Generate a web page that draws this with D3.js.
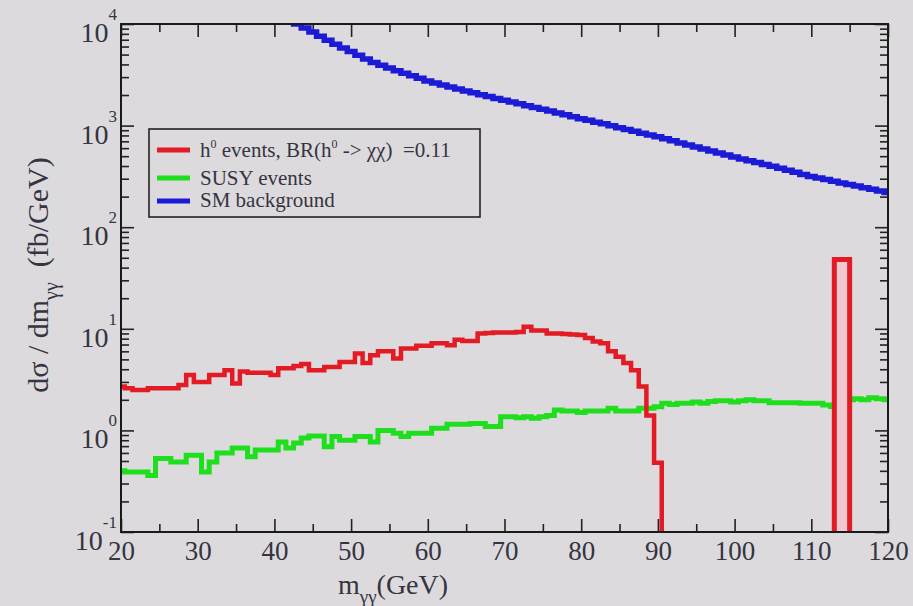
<!DOCTYPE html>
<html><head><meta charset="utf-8">
<script src="https://cdn.jsdelivr.net/npm/d3@7"></script>
<style>
html,body{margin:0;padding:0;background:#dedade;}
svg{display:block;font-family:"Liberation Serif","Times New Roman",serif;}
</style></head><body>
<svg id="chart" width="913" height="606"></svg>
<script>
// ---------- data ----------
const massBins = d3.range(20, 121); // histogram bin centres (GeV), 1 GeV wide
const redValues = [
 2.7,2.6,2.5,2.5,2.6,2.6,2.6,2.6,2.8,3.5,
 3.0,3.0,3.5,3.5,3.9,2.9,3.8,3.7,3.7,3.7,
 3.5,4.1,4.1,4.3,4.5,3.9,3.9,4.2,4.2,4.7,
 4.7,5.7,4.6,5.5,6.0,6.0,5.1,6.4,6.4,6.8,
 6.8,7.2,7.2,6.9,7.8,7.6,7.6,9.0,9.1,9.2,
 9.2,9.2,9.3,10.5,9.6,9.6,9.0,9.0,8.9,8.8,
 8.7,8.1,7.5,7.2,6.0,5.3,4.6,3.9,2.7,1.4,
 0.48,0,0,0,0,0,0,0,0,0,
 0,0,0,0,0,0,0,0,0,0,
 0,0,0,0,0,0,0,0,0,0,
 0
];
const greenValues = [
 0.40,0.39,0.39,0.39,0.36,0.53,0.53,0.49,0.49,0.57,
 0.57,0.39,0.49,0.60,0.60,0.67,0.67,0.55,0.64,0.64,
 0.64,0.77,0.67,0.75,0.84,0.88,0.88,0.69,0.87,0.80,
 0.80,0.87,0.87,0.77,1.00,1.00,0.94,0.87,0.94,0.94,
 0.94,1.05,1.05,1.15,1.15,1.15,1.17,1.17,1.09,1.09,
 1.36,1.36,1.33,1.36,1.32,1.36,1.40,1.59,1.55,1.55,
 1.50,1.55,1.55,1.55,1.65,1.55,1.55,1.55,1.65,1.65,
 1.71,1.85,1.80,1.85,1.85,1.90,1.85,1.92,1.96,1.96,
 1.90,1.96,2.00,1.96,1.96,1.87,1.87,1.87,1.87,1.85,
 1.85,1.85,1.78,1.72,1.95,2.00,2.05,2.00,2.10,2.05,
 2.00
];
const blueValues = [
 null,null,null,null,null,null,null,null,null,null,
 null,null,null,null,null,null,null,null,null,null,
 null,12000,10900,10000,9120,8320,7590,6920,6310,5810,
 5350,4920,4530,4170,3920,3690,3470,3270,3090,2920,
 2750,2630,2510,2400,2290,2190,2100,2010,1930,1850,
 1780,1710,1640,1570,1510,1450,1390,1330,1280,1220,
 1170,1130,1080,1040,995,955,916,879,843,809,
 776,741,708,676,646,617,589,562,537,513,
 490,470,451,433,415,398,380,363,347,331,
 316,305,294,283,273,263,254,244,236,227,
 219
];
// narrow h0 -> gamma gamma peak
const peakEdges = [113, 115];
const peakValue = 48;

const xTickValues = [20,30,40,50,60,70,80,90,100,110,120];
const xMinorValues = [25,35,45,55,65,75,85,95,105,115];
const yExponents = [-1,0,1,2,3,4];
const legendLabels = ["SUSY events","SM background"];

// ---------- layout ----------
const W = 913, H = 606;
const P = {left:121, top:24, right:888, bottom:532};
const x = d3.scaleLinear().domain([20,120]).range([P.left,P.right]);
const y = d3.scaleLog().domain([0.1,1e4]).range([P.bottom,P.top]);
const yMajor = yExponents.map(e => Math.pow(10,e));
const yMinor = [];
yExponents.slice(0,-1).forEach(e => { for (let k=2;k<=9;k++) yMinor.push(k*Math.pow(10,e)); });

const svg = d3.select('#chart');
svg.append('rect').attr('width',W).attr('height',H).attr('fill','#dddade');

svg.append('defs').append('clipPath').attr('id','plotclip')
  .append('rect').attr('x',P.left).attr('y',P.top)
  .attr('width',P.right-P.left).attr('height',P.bottom-P.top);

const COL = {red:'#e31b25', green:'#1ede1e', blue:'#1b1bd6', ink:'#222', text:'#35343f'};

// ---------- axes (ticks inward) ----------
function styleAxis(g){
  g.select('.domain').remove();
  g.selectAll('.tick line').attr('stroke',COL.ink).attr('stroke-width',1.6);
  g.selectAll('text').attr('font-family','"Liberation Serif","Times New Roman",serif');
}
svg.append('g').attr('transform',`translate(0,${P.bottom})`)
  .call(d3.axisBottom(x).tickValues(xTickValues).tickSize(-13).tickPadding(9).tickFormat(d3.format('d')))
  .call(styleAxis)
  .call(g => g.selectAll('text').attr('font-size',27).attr('fill',COL.text));
svg.append('g').attr('transform',`translate(0,${P.bottom})`)
  .call(d3.axisBottom(x).tickValues(xMinorValues).tickSize(-8).tickFormat(''))
  .call(styleAxis);
svg.append('g').attr('transform',`translate(0,${P.top})`)
  .call(d3.axisTop(x).tickValues(xTickValues).tickSize(-13).tickFormat(''))
  .call(styleAxis);
svg.append('g').attr('transform',`translate(0,${P.top})`)
  .call(d3.axisTop(x).tickValues(xMinorValues).tickSize(-8).tickFormat(''))
  .call(styleAxis);
svg.append('g').attr('transform',`translate(${P.left},0)`)
  .call(d3.axisLeft(y).tickValues(yMajor).tickSize(-13).tickFormat(''))
  .call(styleAxis);
svg.append('g').attr('transform',`translate(${P.left},0)`)
  .call(d3.axisLeft(y).tickValues(yMinor).tickSize(-8).tickFormat(''))
  .call(styleAxis);
svg.append('g').attr('transform',`translate(${P.right},0)`)
  .call(d3.axisRight(y).tickValues(yMajor).tickSize(-13).tickFormat(''))
  .call(styleAxis);
svg.append('g').attr('transform',`translate(${P.right},0)`)
  .call(d3.axisRight(y).tickValues(yMinor).tickSize(-8).tickFormat(''))
  .call(styleAxis);

// y tick labels 10^n
const yl = svg.append('g').attr('fill',COL.text);
yExponents.forEach(e => {
  const t = yl.append('text').attr('x',P.left-4).attr('y',y(Math.pow(10,e))+18)
    .attr('text-anchor','end').attr('font-size',28);
  t.append('tspan').text('10');
  t.append('tspan').attr('dy',-22).attr('font-size',17).text(e<0?'-'+Math.abs(e):String(e));
});

// ---------- histograms ----------
function stepPoints(vals){
  const pts = [];
  massBins.forEach((c,i) => {
    const v = vals[i];
    if (v == null) return;
    pts.push([c-0.5, v], [c+0.5, v]);
  });
  return pts;
}
const line = d3.line().x(d => x(d[0])).y(d => d[1] > 0 ? y(d[1]) : P.bottom + 40);
const plot = svg.append('g').attr('clip-path','url(#plotclip)');

plot.append('path').attr('d', line(stepPoints(blueValues)))
  .attr('fill','none').attr('stroke',COL.blue).attr('stroke-width',5.5);
plot.append('path').attr('d', line(stepPoints(greenValues)))
  .attr('fill','none').attr('stroke',COL.green).attr('stroke-width',5);
plot.append('path').attr('d', line(stepPoints(redValues)))
  .attr('fill','none').attr('stroke',COL.red).attr('stroke-width',4.5);
plot.append('path')
  .attr('d', line([[peakEdges[0],0],[peakEdges[0],peakValue],[peakEdges[1],peakValue],[peakEdges[1],0]]))
  .attr('fill','#efc9cf').attr('stroke',COL.red).attr('stroke-width',5);

// frame
svg.append('rect').attr('x',P.left).attr('y',P.top)
  .attr('width',P.right-P.left).attr('height',P.bottom-P.top)
  .attr('fill','none').attr('stroke','#1a1a1a').attr('stroke-width',2);

// ---------- legend ----------
const lg = svg.append('g');
lg.append('rect').attr('x',149).attr('y',129).attr('width',331).attr('height',88)
  .attr('fill','none').attr('stroke','#222').attr('stroke-width',1.6);
const legendRows = [
  {color:COL.red, y:150},
  {color:COL.green, y:178, label:legendLabels[0]},
  {color:COL.blue, y:201, label:legendLabels[1]}
];
legendRows.forEach(r => {
  lg.append('line').attr('x1',157).attr('x2',190).attr('y1',r.y).attr('y2',r.y)
    .attr('stroke',r.color).attr('stroke-width',5);
});
const t0 = lg.append('text').attr('x',200).attr('y',157).attr('font-size',21).attr('fill',COL.text);
t0.append('tspan').text('h');
t0.append('tspan').attr('dy',-9).attr('font-size',12).text('0');
t0.append('tspan').attr('dy',9).text(' events, BR(h');
t0.append('tspan').attr('dy',-9).attr('font-size',12).text('0');
t0.append('tspan').attr('dy',9).text(' -> \u03c7\u03c7)\u00a0\u00a0=0.11');
lg.append('text').attr('x',200).attr('y',185).attr('font-size',21).attr('fill',COL.text).text(legendRows[1].label);
lg.append('text').attr('x',200).attr('y',207).attr('font-size',21).attr('fill',COL.text).text(legendRows[2].label);

// ---------- axis titles ----------
const xt = svg.append('text').attr('x',338).attr('y',594).attr('font-size',28).attr('fill',COL.text);
xt.append('tspan').text('m');
xt.append('tspan').attr('dy',9).attr('font-size',19).text('\u03b3\u03b3');
xt.append('tspan').attr('dy',-9).text('(GeV)');

const yt = svg.append('text').attr('transform','translate(48,275) rotate(-90)')
  .attr('text-anchor','middle').attr('font-size',30).attr('fill',COL.text);
yt.append('tspan').text('d\u03c3 / dm');
yt.append('tspan').attr('dy',10).attr('font-size',20).text('\u03b3\u03b3');
yt.append('tspan').attr('dy',-10).text('\u00a0\u00a0(fb/GeV)');
</script>
</body></html>
